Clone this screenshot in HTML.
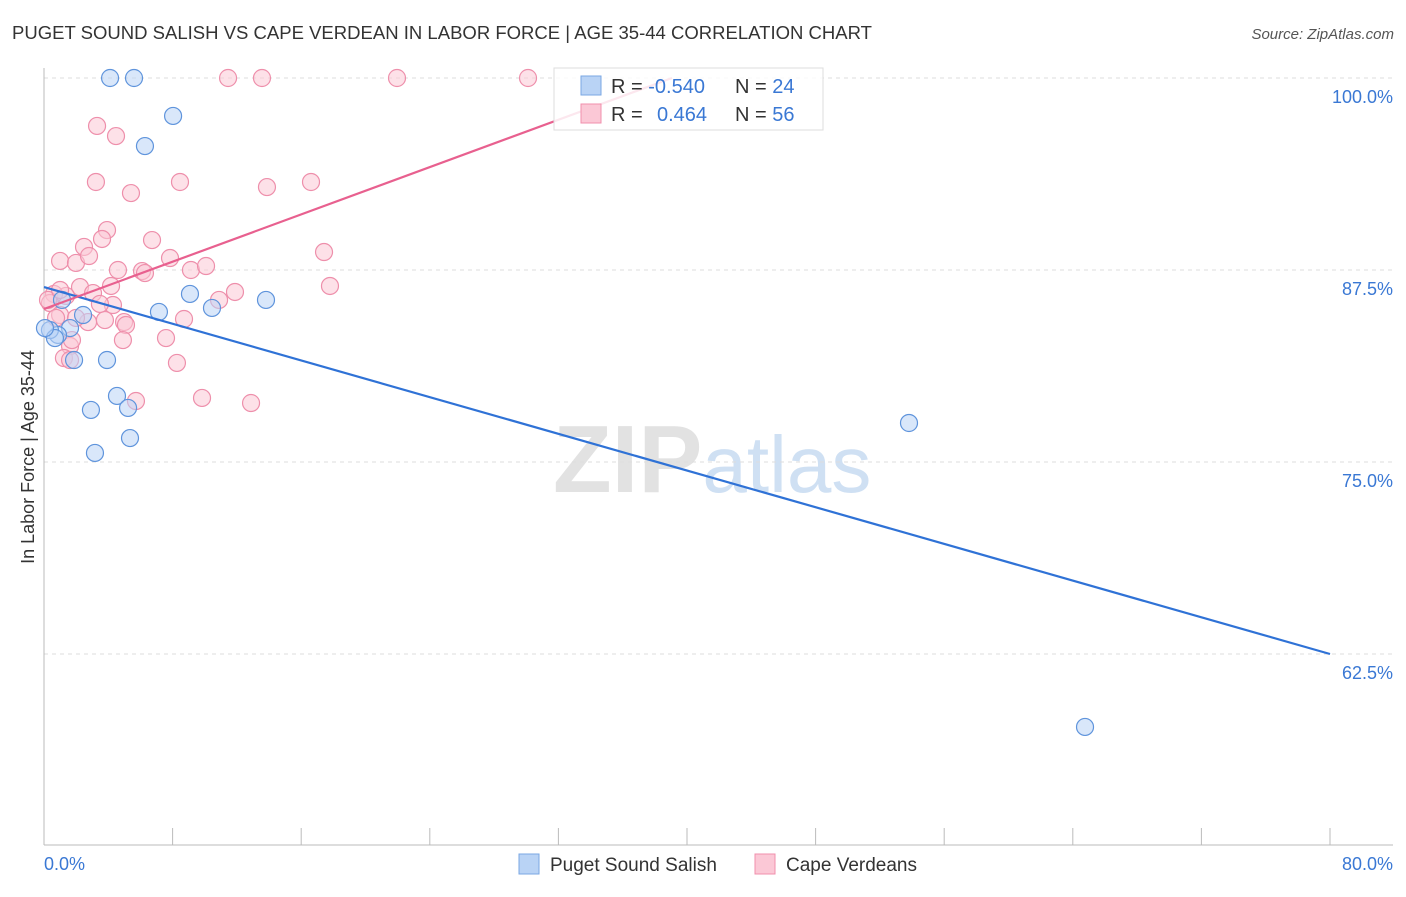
<!DOCTYPE html>
<html><head><meta charset="utf-8"><style>
body{margin:0;background:#fff;font-family:"Liberation Sans",sans-serif}
svg text{font-family:"Liberation Sans",sans-serif}
</style></head><body>
<svg id="c" width="1406" height="892" xmlns="http://www.w3.org/2000/svg">
<text x="12" y="39" font-size="18" fill="#333" textLength="860" lengthAdjust="spacingAndGlyphs">PUGET SOUND SALISH VS CAPE VERDEAN IN LABOR FORCE | AGE 35-44 CORRELATION CHART</text>
<text x="1394" y="39" font-size="15" fill="#555" text-anchor="end" font-style="italic">Source: ZipAtlas.com</text>
<text x="553" y="492" font-size="96" fill="#e2e2e2" font-family="Liberation Serif" font-weight="bold">ZIP<tspan fill="#cfe0f3" font-family="Liberation Sans" font-weight="normal" font-size="80">atlas</tspan></text>
<g id="grid"></g><g id="axes"></g><g id="pts"></g><g id="lines"></g>
<text transform="translate(34,457) rotate(-90)" font-size="18" fill="#333" text-anchor="middle">In Labor Force | Age 35-44</text>
<text x="44" y="870" font-size="18" fill="#3a78d4">0.0%</text>
<text x="1393" y="870" font-size="18" fill="#3a78d4" text-anchor="end">80.0%</text>
<g>
<rect x="554" y="68" width="269" height="62" fill="#fff" fill-opacity="0.85" stroke="#ddd"/>
<rect x="581" y="76" width="20" height="19" fill="#b9d3f5" stroke="#7aa7e3"/>
<rect x="581" y="104" width="20" height="19" fill="#fbc8d6" stroke="#f08fac"/>
<text x="611" y="93" font-size="20" fill="#333">R = <tspan fill="#3a78d4">-0.540</tspan><tspan x="735">N = </tspan><tspan fill="#3a78d4">24</tspan></text>
<text x="611" y="121" font-size="20" fill="#333">R = <tspan x="657" fill="#3a78d4">0.464</tspan><tspan x="735">N = </tspan><tspan fill="#3a78d4">56</tspan></text>
</g>
<g>
<rect x="519" y="854" width="20" height="20" fill="#b9d3f5" stroke="#7aa7e3"/>
<text x="550" y="871" font-size="19" fill="#333">Puget Sound Salish</text>
<rect x="755" y="854" width="20" height="20" fill="#fbc8d6" stroke="#f08fac"/>
<text x="786" y="871" font-size="19" fill="#333">Cape Verdeans</text>
</g>
</svg>
<script>
const yTicks=[100,87.5,75,62.5];
const yTickLabels=["100.0%","87.5%","75.0%","62.5%"];
const blueX=[4.11,5.60,8.03,6.28,9.08,10.45,13.81,7.15,2.43,1.62,0.87,0.37,0.68,1.87,3.92,4.54,2.92,5.23,3.17,5.35,53.81,64.76,1.12,0.06];
const blueY=[100,100,97.53,95.57,85.94,85.03,85.55,84.77,84.57,83.72,83.27,83.59,83.07,81.64,81.64,79.30,78.39,78.52,75.59,76.56,77.54,57.75,85.55,83.72];
const pinkX=[11.45,13.56,21.96,30.11,3.30,4.48,3.23,8.46,5.41,13.87,16.61,3.92,3.61,6.72,2.49,1.00,1.99,2.80,17.42,4.60,6.10,6.28,7.84,9.14,10.08,2.24,4.17,1.37,3.05,0.62,0.37,1.00,4.29,11.88,10.89,17.79,8.71,3.79,2.74,4.98,5.10,1.62,4.91,7.59,1.24,1.62,8.27,5.72,9.83,12.88,0.25,0.75,1.99,3.48,1.00,1.74];
const pinkY=[100,100,100,100,96.88,96.22,93.23,93.23,92.51,92.90,93.23,90.10,89.52,89.45,89.00,88.09,87.96,88.41,88.67,87.50,87.43,87.30,88.28,87.50,87.76,86.39,86.46,85.81,86.00,85.94,85.35,84.57,85.22,86.07,85.55,86.46,84.31,84.24,84.11,84.11,83.92,82.55,82.94,83.07,81.77,81.64,81.45,78.97,79.17,78.84,85.55,84.38,84.38,85.29,86.20,82.94];
const blueTrend=[86.39,62.5]; // value at x=0 and x=80
const pinkTrend=[84.96,0.385]; // intercept, slope
const NS="http://www.w3.org/2000/svg";
const sx=v=>44+v/80*1286, sy=v=>78+(100-v)*15.36;
function mk(t,a,p){const e=document.createElementNS(NS,t);for(const k in a)e.setAttribute(k,a[k]);p.appendChild(e);return e;}
const grid=document.getElementById('grid'),axes=document.getElementById('axes'),pts=document.getElementById('pts'),lines=document.getElementById('lines');
yTicks.forEach((t,i)=>{
 const l=mk('line',{x1:44,x2:1393,y1:sy(t),y2:sy(t),stroke:'#ddd','stroke-dasharray':'4,4'},grid);
 
 
 const tx=mk('text',{x:1393,y:sy(t)+25,'font-size':18,fill:'#3a78d4','text-anchor':'end'},grid);
 tx.textContent=yTickLabels[i];
 
 
});
const ax=mk('line',{x1:44,x2:1393,y1:845,y2:845,stroke:'#bbb'},axes);


const ay=mk('line',{x1:44,x2:44,y1:68,y2:845,stroke:'#bbb'},axes);


for(let i=0;i<=10;i++){const t=mk('line',{x1:sx(i*8),x2:sx(i*8),y1:828,y2:845,stroke:'#bbb'},axes);
 
 }
function dots(X,Y,fill,stroke,name){X.forEach((x,i)=>{const c=mk('circle',{cx:sx(x),cy:sy(Y[i]),r:8.5,fill:fill,'fill-opacity':0.55,stroke:stroke,'stroke-width':1.2},pts);
 
 });}
dots(pinkX,pinkY,'#fbc8d6','#ee8fab','cape-verdean-point');
dots(blueX,blueY,'#b9d3f5','#5f94dc','puget-sound-salish-point');
const bl=mk('line',{x1:sx(0),y1:sy(blueTrend[0]),x2:sx(80),y2:sy(blueTrend[1]),stroke:'#2f72d6','stroke-width':2.2},lines);


const xe=(100-pinkTrend[0])/pinkTrend[1];
const pl=mk('line',{x1:sx(0),y1:sy(pinkTrend[0]),x2:sx(xe),y2:sy(100),stroke:'#e8608f','stroke-width':2.2},lines);


</script>
</body></html>
